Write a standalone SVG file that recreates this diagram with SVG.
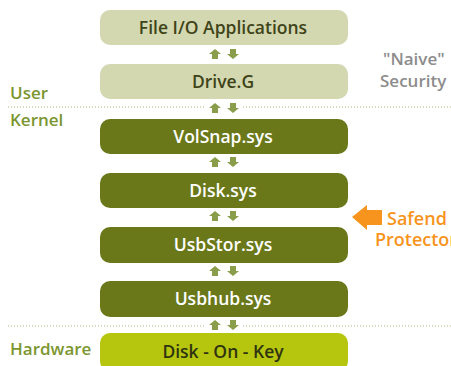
<svg xmlns="http://www.w3.org/2000/svg" width="451" height="366" viewBox="0 0 451 366">
  <defs>
    <style>
      text { font-family: "Open Sans", "Noto Sans", "Liberation Sans", sans-serif; font-weight: 600; }
      .box-user { fill: #d3d8b1; }
      .box-kernel { fill: #6a781a; }
      .box-hw { fill: #b6c60f; }
      .t-user { font-size: 17.5px; fill: #3f4418; text-anchor: middle; }
      .t-kernel { font-size: 17.5px; fill: #ffffff; text-anchor: middle; }
      .t-hw { font-size: 17.5px; fill: #2f3410; text-anchor: middle; }
      .layer { font-size: 17px; fill: #7b9630; }
      .note { font-size: 17px; fill: #8c8c8c; }
      .safend { font-size: 18px; fill: #f7941d; }
      .sep { stroke: #a9bb72; stroke-width: 1.2; stroke-dasharray: 1 2; fill: none; }
      .arr { fill: #8a9d4a; }
    </style>
    <!-- pair of small up/down arrows between layers -->
    <g id="updown">
      <path class="arr" d="M209,5 L215,0 L221,5 L218,5 L218,10 L212,10 L212,5 Z"/>
      <path class="arr" d="M227,5 L233,10 L239,5 L236,5 L236,0 L230,0 L230,5 Z"/>
    </g>
  </defs>

  <rect width="451" height="366" fill="#ffffff"/>

  <!-- layer separators and labels -->
  <g id="layers">
    <line class="sep" x1="8" y1="107" x2="205" y2="107"/>
    <line class="sep" x1="243" y1="107" x2="451" y2="107"/>
    <line class="sep" x1="8" y1="326" x2="205" y2="326"/>
    <line class="sep" x1="243" y1="326" x2="451" y2="326"/>
    <text class="layer" x="10" y="99">User</text>
    <text class="layer" x="10" y="126">Kernel</text>
    <text class="layer" x="10" y="355">Hardware</text>
  </g>

  <g id="file-io">
    <rect class="box-user" x="100" y="10" width="248" height="35" rx="10"/>
    <text class="t-user" x="223" y="33.5">File I/O Applications</text>
  </g>
  <g id="drive-g">
    <rect class="box-user" x="100" y="64" width="248" height="35" rx="10"/>
    <text class="t-user" x="223" y="87.5">Drive.G</text>
  </g>
  <g id="volsnap">
    <rect class="box-kernel" x="100" y="119" width="248" height="35" rx="10"/>
    <text class="t-kernel" x="223" y="142.5">VolSnap.sys</text>
  </g>
  <g id="disk">
    <rect class="box-kernel" x="100" y="173" width="248" height="35" rx="10"/>
    <text class="t-kernel" x="223" y="196.5">Disk.sys</text>
  </g>
  <g id="usbstor">
    <rect class="box-kernel" x="100" y="227" width="248" height="36" rx="10"/>
    <text class="t-kernel" x="223" y="251">UsbStor.sys</text>
  </g>
  <g id="usbhub">
    <rect class="box-kernel" x="100" y="281" width="248" height="36" rx="10"/>
    <text class="t-kernel" x="223" y="305">Usbhub.sys</text>
  </g>
  <g id="disk-on-key">
    <rect class="box-hw" x="100" y="333" width="248" height="38" rx="10"/>
    <text class="t-hw" x="223" y="358">Disk - On - Key</text>
  </g>

  <!-- connectors between stacked layers -->
  <g id="connectors">
    <use href="#updown" y="49"/>
    <use href="#updown" y="103"/>
    <use href="#updown" y="157"/>
    <use href="#updown" y="211"/>
    <use href="#updown" y="266"/>
    <use href="#updown" y="320"/>
  </g>

  <g id="naive-security">
    <text class="note" x="383" y="65">"Naive"</text>
    <text class="note" x="380" y="87">Security</text>
  </g>

  <g id="safend-protector">
    <path fill="#f7941d" d="M352,217 L367,205 L367,210 L382,210 L382,225 L367,225 L367,230 Z"/>
    <text class="safend" x="387" y="225">Safend</text>
    <text class="safend" x="375" y="246">Protector</text>
  </g>
</svg>
